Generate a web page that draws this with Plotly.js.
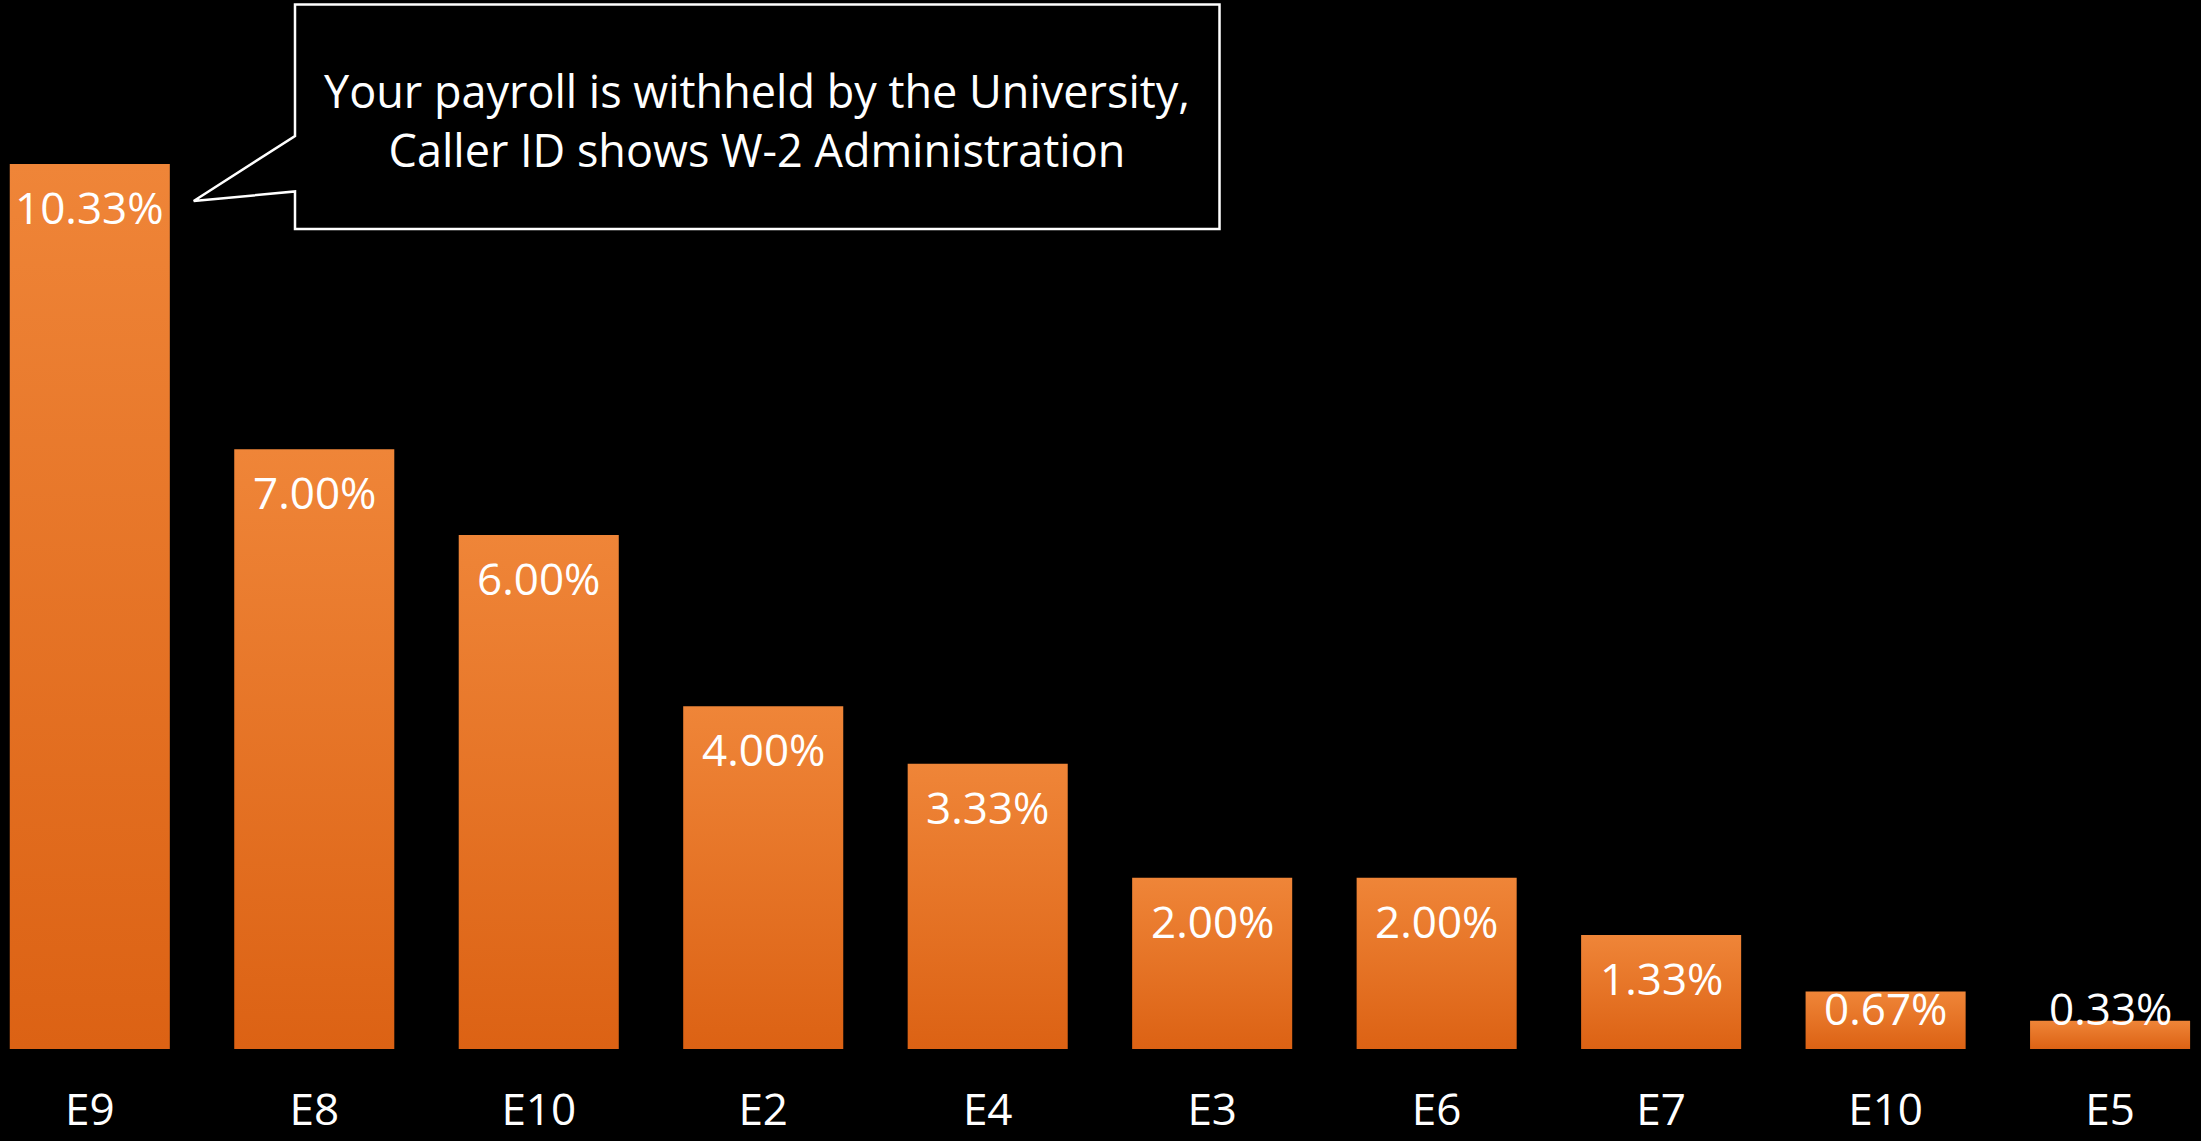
<!DOCTYPE html>
<html>
<head>
<meta charset="utf-8">
<script src="https://cdn.plot.ly/plotly-3.0.1.min.js"></script>
<style>
  html, body { margin: 0; padding: 0; background: #000; }
  #chart { width: 2201px; height: 1141px; }
</style>
</head>
<body>
<div id="chart"></div>
<script>
// ---- data ----
const categories = ["E9", "E8", "E10", "E2", "E4", "E3", "E6", "E7", "E10", "E5"];
const values = [10.33, 7.00, 6.00, 4.00, 3.33, 2.00, 2.00, 1.33, 0.67, 0.33];
const valueLabels = ["10.33%", "7.00%", "6.00%", "4.00%", "3.33%", "2.00%", "2.00%", "1.33%", "0.67%", "0.33%"];
const calloutText = "Your payroll is withheld by the University,<br>Caller ID shows W-2 Administration";

// ---- layout constants ----
const W = 2201, H = 1141;
const MB = 92;                 // bottom margin
const PH = H - MB;             // plot height (top margin 0)
const Y_MAX = 12.245;
const PPU = PH / Y_MAX;        // pixels per unit
const FONT = '"Open Sans", "Noto Sans", sans-serif';

const xs = categories.map((_, i) => i);

const px = v => v / W;
const py = v => (PH - v) / PH;

// value labels: inside the top of the bar, clamped for short bars
const labelAnns = values.map((v, i) => {
  const h = v * PPU;
  const shift = -Math.min(43, h - 41);
  return {
    x: xs[i], y: v, xref: 'x', yref: 'y',
    text: valueLabels[i], showarrow: false,
    yanchor: 'middle', xanchor: 'center', yshift: shift,
    font: { family: FONT, size: 44, color: '#ffffff' }
  };
});

// callout bubble
const pts = [[295, 4.5], [1219.5, 4.5], [1219.5, 229], [295, 229], [295, 191.5], [193.7, 201], [295, 136]];
const pathStr = 'M ' + pts.map(p => px(p[0]).toFixed(5) + ',' + py(p[1]).toFixed(5)).join(' L ') + ' Z';

const calloutAnn = {
  x: px(757.3), y: py(120), xref: 'paper', yref: 'paper',
  text: calloutText, showarrow: false, align: 'center',
  xanchor: 'center', yanchor: 'middle',
  font: { family: FONT, size: 45, color: '#ffffff' }
};

const trace = {
  type: 'bar',
  x: xs,
  y: values,
  width: 0.713,
  marker: { color: '#E87428', line: { width: 0 } },
  hoverinfo: 'none'
};

const layout = {
  width: W, height: H,
  paper_bgcolor: '#000000',
  plot_bgcolor: '#000000',
  margin: { l: 0, r: 0, t: 0, b: MB, pad: 0 },
  showlegend: false,
  xaxis: {
    range: [-0.4, 9.405],
    tickvals: xs,
    ticktext: categories,
    showgrid: false, zeroline: false, showline: false, ticks: '',
    tickfont: { family: FONT, size: 44, color: '#ffffff' },
    ticklabelstandoff: 31
  },
  yaxis: {
    range: [0, Y_MAX],
    visible: false, showgrid: false, zeroline: false
  },
  shapes: [{
    type: 'path', xref: 'paper', yref: 'paper', path: pathStr,
    line: { color: '#ffffff', width: 2.5 }, fillcolor: '#000000', layer: 'above'
  }],
  annotations: labelAnns.concat([calloutAnn])
};

Plotly.newPlot('chart', [trace], layout, { staticPlot: true, displayModeBar: false }).then(gd => {
  const svg = gd.querySelector('.main-svg');
  let defs = svg.querySelector('defs');
  if (!defs) { defs = document.createElementNS('http://www.w3.org/2000/svg', 'defs'); svg.insertBefore(defs, svg.firstChild); }
  const ns = 'http://www.w3.org/2000/svg';
  const grad = document.createElementNS(ns, 'linearGradient');
  grad.setAttribute('id', 'barGrad');
  grad.setAttribute('x1', '0'); grad.setAttribute('y1', '0');
  grad.setAttribute('x2', '0'); grad.setAttribute('y2', '1');
  [['0', '#EF8538'], ['1', '#DC6214']].forEach(([o, c]) => {
    const s = document.createElementNS(ns, 'stop');
    s.setAttribute('offset', o); s.setAttribute('stop-color', c);
    grad.appendChild(s);
  });
  defs.appendChild(grad);
  gd.querySelectorAll('.barlayer .point path').forEach(p => { p.style.fill = 'url(#barGrad)'; });
});
</script>
</body>
</html>
